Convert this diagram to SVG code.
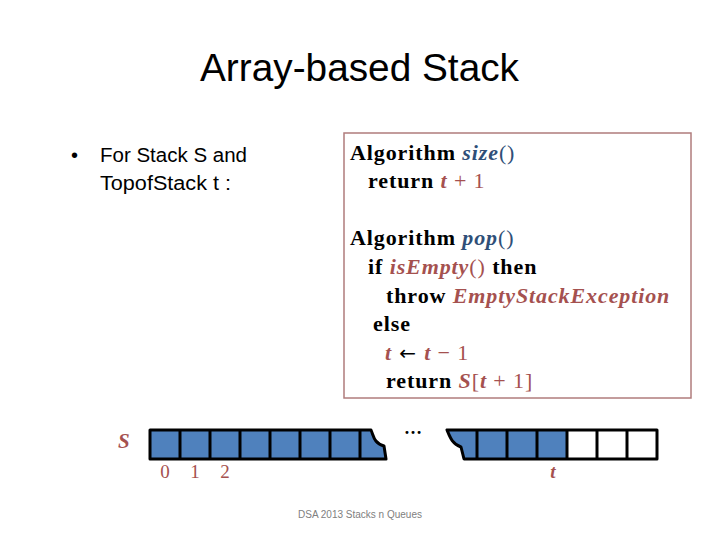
<svg xmlns="http://www.w3.org/2000/svg" width="720" height="540" viewBox="0 0 720 540">
<style>
.title{font-family:"Liberation Sans",Arial,sans-serif;font-size:38px;fill:#000}
.bul{font-family:"Liberation Sans",Arial,sans-serif;font-size:20px;fill:#000}
.code{font-family:"Liberation Serif","Times New Roman",serif;font-size:22px;font-weight:bold;fill:#000;letter-spacing:0.9px}
.fn{fill:#2F4F78;font-style:italic}
.fp{fill:#2F4F78;font-weight:normal}
.rv{fill:#A5514F;font-style:italic}
.rn{fill:#A5514F;font-weight:normal}
.arr{font-family:"DejaVu Sans",sans-serif;font-weight:normal;font-size:20px}
.lbl{font-family:"Liberation Serif","Times New Roman",serif;font-size:19px;fill:#A5514F}
.cell{fill:#4F81BD}
.edge{fill:none;stroke:#000;stroke-width:3;stroke-linejoin:round}
.div{stroke:#000;stroke-width:3}
.foot{font-family:"Liberation Sans",Arial,sans-serif;font-size:10px;fill:#808080}
</style>
<rect width="720" height="540" fill="#fff"/>
<g id="title"><text class="title" x="200" y="81" textLength="319" lengthAdjust="spacingAndGlyphs">Array-based Stack</text></g>
<g id="bullet">
<text class="bul" x="71" y="162">•</text>
<text class="bul" x="100" y="162" textLength="147" lengthAdjust="spacingAndGlyphs">For Stack S and</text>
<text class="bul" x="100" y="190" textLength="131" lengthAdjust="spacingAndGlyphs">TopofStack t :</text>
</g>
<g id="code">
<rect x="344" y="133" width="347" height="265" fill="none" stroke="#B07C7C" stroke-width="1.5"/>
<text class="code" x="350" y="160">Algorithm <tspan class="fn">size</tspan><tspan class="fp">()</tspan></text>
<text class="code" x="368" y="188">return <tspan class="rv">t</tspan><tspan class="rn"> + 1</tspan></text>
<text class="code" x="350" y="245">Algorithm <tspan class="fn">pop</tspan><tspan class="fp">()</tspan></text>
<text class="code" x="368" y="274">if <tspan class="rv">isEmpty</tspan><tspan class="rn">()</tspan> then</text>
<text class="code" x="386" y="303">throw <tspan class="rv">EmptyStackException</tspan></text>
<text class="code" x="373" y="331">else</text>
<text class="code" x="385" y="360"><tspan class="rv">t</tspan><tspan class="arr"> ← </tspan><tspan class="rv">t</tspan><tspan class="rn"> − 1</tspan></text>
<text class="code" x="386" y="388">return <tspan class="rv">S</tspan><tspan class="rn">[</tspan><tspan class="rv">t</tspan><tspan class="rn"> + 1]</tspan></text>
</g>
<g id="array">
<text x="118" y="448" font-family="Liberation Serif,serif" font-size="21" font-weight="bold" font-style="italic" fill="#A5514F">S</text>
<path class="cell" d="M150,430 H371 C374,437 374,443 384,446 L386,459 H150 Z"/>
<g class="div">
<line x1="180" y1="430" x2="180" y2="459"/><line x1="210" y1="430" x2="210" y2="459"/><line x1="240" y1="430" x2="240" y2="459"/><line x1="270" y1="430" x2="270" y2="459"/><line x1="300" y1="430" x2="300" y2="459"/><line x1="330" y1="430" x2="330" y2="459"/><line x1="360" y1="430" x2="360" y2="459"/>
</g>
<path class="edge" d="M150,430 H371 C374,437 374,443 384,446 L386,459 H150 Z"/>
<path class="cell" d="M447,430 H567 V459 H464 L461,447 C452,444 450,437 447,430 Z"/>
<rect x="567" y="430" width="90" height="29" fill="#fff"/>
<g class="div">
<line x1="477" y1="430" x2="477" y2="459"/><line x1="507" y1="430" x2="507" y2="459"/><line x1="537" y1="430" x2="537" y2="459"/><line x1="567" y1="430" x2="567" y2="459"/><line x1="597" y1="430" x2="597" y2="459"/><line x1="627" y1="430" x2="627" y2="459"/>
</g>
<path class="edge" d="M447,430 H657 V459 H464 L461,447 C452,444 450,437 447,430 Z"/>
<text x="413" y="434" font-family="Liberation Serif,serif" font-size="18" font-weight="bold" text-anchor="middle">…</text>
<text class="lbl" x="165" y="478" text-anchor="middle">0</text>
<text class="lbl" x="195" y="478" text-anchor="middle">1</text>
<text class="lbl" x="225" y="478" text-anchor="middle">2</text>
<text class="lbl" x="553" y="478" text-anchor="middle" font-style="italic" font-weight="bold">t</text>
</g>
<g id="footer"><text class="foot" x="360" y="518" text-anchor="middle">DSA 2013 Stacks n Queues</text></g>
</svg>
